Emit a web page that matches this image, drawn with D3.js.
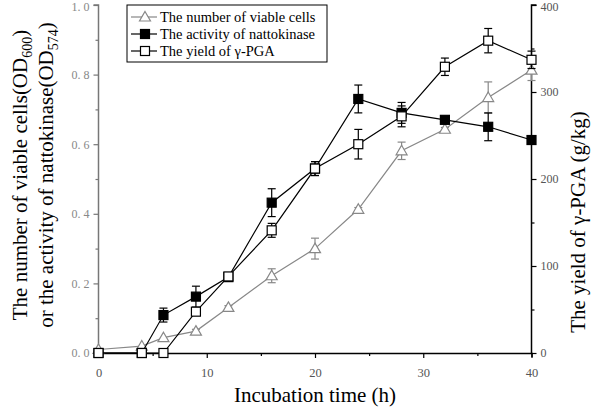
<!DOCTYPE html>
<html><head><meta charset="utf-8">
<script src="https://cdn.jsdelivr.net/npm/d3@7"></script>
<style>body{margin:0;background:#fff}svg{display:block}</style>
</head><body>
<svg id="c" width="598" height="408"></svg>
<script>
const times = [0, 4, 6, 9, 12, 16, 20, 24, 28, 32, 36, 40];
const viable = [0.01, 0.02, 0.044, 0.063, 0.131, 0.222, 0.30, 0.413, 0.581, 0.643, 0.734, 0.813];
const viableErr = [0, 0, 0, 0.005, 0.005, 0.02, 0.03, 0.005, 0.025, 0.005, 0.045, 0.03];
const natto = [0, 0, 0.109, 0.162, 0.218, 0.432, 0.53, 0.73, 0.69, 0.67, 0.65, 0.612];
const nattoErr = [0, 0, 0.02, 0.03, 0.01, 0.04, 0.02, 0.04, 0.03, 0.005, 0.04, 0.005];
const pga = [0, 0, 0, 47.5, 88, 141, 212, 240, 272, 329, 359, 337];
const pgaErr = [0, 0, 0, 4, 4, 8, 8, 17, 12, 10, 14, 10];
const xTicks = [0, 10, 20, 30, 40];
const leftTicks = [0, 0.2, 0.4, 0.6, 0.8, 1.0];
const rightTicks = [0, 100, 200, 300, 400];
const legendLabels = ["The number of viable cells", "The activity of nattokinase", "The yield of \u03b3-PGA"];

const svg = d3.select("#c");
const serif = "'Liberation Serif', 'Times New Roman', serif";
const x = d3.scaleLinear().domain([0, 40]).range([98.5, 531.5]);
const yL = d3.scaleLinear().domain([0, 1]).range([353, 5]);
const yR = d3.scaleLinear().domain([0, 400]).range([353, 5]);

// Bottom axis
const gx = svg.append("g").attr("transform", "translate(0,353)");
gx.call(d3.axisBottom(x).tickValues(d3.range(0, 41, 5)).tickSize(4).tickFormat(d => xTicks.includes(d) ? d : ""));
gx.select(".domain").attr("stroke", "#000").attr("stroke-width", 1.5);
gx.selectAll(".tick line").attr("stroke", "#000").attr("stroke-width", 1.2)
  .attr("y2", d => xTicks.includes(d) ? 5 : 3);
gx.selectAll(".tick text").attr("font-family", serif).attr("font-size", 12.5).attr("fill", "#555").attr("dy", "1.35em");

// Left axis
const gl = svg.append("g").attr("transform", "translate(98.5,0)");
gl.call(d3.axisLeft(yL).tickValues(d3.range(0, 11).map(i => i / 10)).tickSize(5)
  .tickFormat(d => leftTicks.some(t => Math.abs(t - d) < 1e-9) ? d3.format(".1f")(d).replace(".", ". ") : ""));
gl.select(".domain").attr("stroke", "#777").attr("stroke-width", 1.5).attr("d", "M0,353V5H-5");
gl.selectAll(".tick line").attr("stroke", "#777").attr("stroke-width", 1.2)
  .attr("x2", d => leftTicks.some(t => Math.abs(t - d) < 1e-9) ? -5 : -3);
gl.selectAll(".tick text").attr("font-family", serif).attr("font-size", 12).attr("fill", "#888").attr("x", -9)
  .attr("y", d => d > 0.99 ? 2 : 0);

// Right axis
const gr = svg.append("g").attr("transform", "translate(531.5,0)");
gr.call(d3.axisRight(yR).tickValues(d3.range(0, 401, 50)).tickSize(5)
  .tickFormat(d => rightTicks.includes(d) ? d : ""));
gr.select(".domain").attr("stroke", "#000").attr("stroke-width", 1.5).attr("d", "M0,353V5H5");
gr.selectAll(".tick line").attr("stroke", "#000").attr("stroke-width", 1.2)
  .attr("x2", d => rightTicks.includes(d) ? 5 : 3);
gr.selectAll(".tick text").attr("font-family", serif).attr("font-size", 12).attr("fill", "#555").attr("x", 9)
  .attr("y", d => d === 400 ? 2 : 0);

// Titles
svg.append("text").attr("x", 315).attr("y", 402).attr("text-anchor", "middle")
  .attr("font-family", serif).attr("font-size", 21).attr("fill", "#000").text("Incubation time (h)");

const lt1 = svg.append("text").attr("transform", "translate(27,175) rotate(-90)").attr("text-anchor", "middle")
  .attr("font-family", serif).attr("font-size", 21).attr("fill", "#000");
lt1.append("tspan").text("The number of viable cells(OD");
lt1.append("tspan").attr("font-size", 14).attr("dy", 5).text("600");
lt1.append("tspan").attr("dy", -5).text(")");
const lt2 = svg.append("text").attr("transform", "translate(53,175) rotate(-90)").attr("text-anchor", "middle")
  .attr("font-family", serif).attr("font-size", 21).attr("fill", "#000");
lt2.append("tspan").text("or the activity of nattokinase(OD");
lt2.append("tspan").attr("font-size", 14).attr("dy", 5).text("574");
lt2.append("tspan").attr("dy", -5).text(")");

svg.append("text").attr("transform", "translate(585,222) rotate(-90)").attr("text-anchor", "middle")
  .attr("font-family", serif).attr("font-size", 21).attr("fill", "#000").text("The yield of \u03b3-PGA (g/kg)");

// Series
const series = [
  {vals: viable, err: viableErr, y: yL, color: "#888", marker: "tri", fill: "#fff"},
  {vals: natto, err: nattoErr, y: yL, color: "#000", marker: "sq", fill: "#000"},
  {vals: pga, err: pgaErr, y: yR, color: "#000", marker: "sq", fill: "#fff"}
];
const triPath = "M0,-5.5L5.5,4L-5.5,4Z";
function drawMarker(g, s) {
  if (s.marker === "tri") {
    g.append("path").attr("d", triPath).attr("fill", s.fill).attr("stroke", s.color).attr("stroke-width", 1.2);
  } else {
    g.append("rect").attr("x", -4.5).attr("y", -4.5).attr("width", 9).attr("height", 9)
      .attr("fill", s.fill).attr("stroke", s.color).attr("stroke-width", 1.2);
  }
}
series.forEach(s => {
  const g = svg.append("g");
  const line = d3.line().x((d, i) => x(times[i])).y(d => s.y(d));
  g.append("path").datum(s.vals).attr("d", line).attr("fill", "none").attr("stroke", s.color).attr("stroke-width", 1.2);
  s.vals.forEach((v, i) => {
    const e = s.err[i];
    if (e > 0) {
      const cx = x(times[i]), y1 = s.y(v - e), y2 = s.y(v + e);
      g.append("line").attr("x1", cx).attr("x2", cx).attr("y1", y1).attr("y2", y2).attr("stroke", s.color).attr("stroke-width", 1.2);
      [y1, y2].forEach(yy => g.append("line").attr("x1", cx - 4).attr("x2", cx + 4).attr("y1", yy).attr("y2", yy)
        .attr("stroke", s.color).attr("stroke-width", 1.2));
    }
    drawMarker(g.append("g").attr("transform", `translate(${x(times[i])},${s.y(v)})`), s);
  });
});

// Legend
const lg = svg.append("g");
lg.append("rect").attr("x", 127).attr("y", 5).attr("width", 200).attr("height", 57)
  .attr("fill", "#fff").attr("stroke", "#000").attr("stroke-width", 1);
series.forEach((s, i) => {
  const yy = 17 + i * 17;
  lg.append("line").attr("x1", 131).attr("x2", 157).attr("y1", yy).attr("y2", yy).attr("stroke", s.color).attr("stroke-width", 1.2);
  drawMarker(lg.append("g").attr("transform", `translate(145,${yy})`), s);
  lg.append("text").attr("x", 160).attr("y", yy + 5).attr("font-family", serif).attr("font-size", 14.5)
    .attr("fill", "#000").text(legendLabels[i]);
});
</script>
</body></html>
